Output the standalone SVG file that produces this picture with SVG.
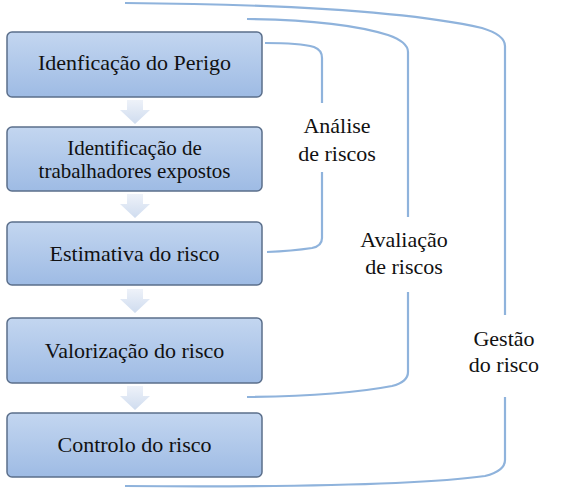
<svg xmlns="http://www.w3.org/2000/svg" width="564" height="496" viewBox="0 0 564 496">
<defs>
<linearGradient id="g" x1="0" y1="0" x2="0" y2="1">
<stop offset="0" stop-color="#c3d6f0"/>
<stop offset="1" stop-color="#9ebbe4"/>
</linearGradient>
<linearGradient id="ga" x1="0" y1="0" x2="0" y2="1">
<stop offset="0" stop-color="#eef2f9"/>
<stop offset="1" stop-color="#cfdcef"/>
</linearGradient>
<path id="arr" d="M-8,0 H8 V10 H15 L0,24 L-15,10 H-8 Z"/>
</defs>
<style>
.box{fill:url(#g);stroke:#5b6f8b;stroke-width:1.5}
.t{font-family:'Liberation Serif','Times New Roman',serif;font-size:22px;fill:#111;text-anchor:middle}
.s{font-size:21px}
.l{font-family:'Liberation Serif','Times New Roman',serif;font-size:22px;fill:#111;text-anchor:middle}
.c{fill:none;stroke:#8fb3dc;stroke-width:2.2}
.a{fill:url(#ga)}
</style>
<rect width="564" height="496" fill="#fff"/>
<g id="connectors">
<use href="#arr" class="a" x="135" y="100"/>
<use href="#arr" class="a" x="135" y="194"/>
<use href="#arr" class="a" x="135" y="289"/>
<use href="#arr" class="a" x="135" y="386"/>
<path class="c" d="M265,43 Q300,43 314,47 Q322,50 322,58 V103"/>
<path class="c" d="M322,172 V238 Q322,246 312,248 Q292,251 267,252"/>
<path class="c" d="M247,19 Q340,20 388,35 Q408,42 408,52 V217"/>
<path class="c" d="M408,292 V372 Q408,382 392,386 Q340,396 247,397"/>
<path class="c" d="M125,3 Q380,5 482,28 Q505,35 505,46 V315"/>
<path class="c" d="M505,397 V460 Q505,471 485,476 Q400,488 125,486"/>
</g>
<g id="n1"><rect class="box" x="7" y="32" width="255" height="65" rx="5"/><text class="t" x="134.5" y="70">Idenficação do Perigo</text></g>
<g id="n2"><rect class="box" x="7" y="127" width="255" height="64" rx="5"/><text class="t s" x="134.5" y="155">Identificação de</text><text class="t s" x="134.5" y="178">trabalhadores expostos</text></g>
<g id="n3"><rect class="box" x="7" y="222" width="255" height="63" rx="5"/><text class="t" x="134.5" y="261">Estimativa do risco</text></g>
<g id="n4"><rect class="box" x="7" y="318" width="255" height="65" rx="5"/><text class="t" x="134.5" y="358">Valorização do risco</text></g>
<g id="n5"><rect class="box" x="7" y="413" width="255" height="64" rx="5"/><text class="t" x="134.5" y="452">Controlo do risco</text></g>
<g id="lab1"><text class="l" x="337" y="133">Análise</text><text class="l" x="337" y="161">de riscos</text></g>
<g id="lab2"><text class="l" x="404" y="247">Avaliação</text><text class="l" x="404" y="274">de riscos</text></g>
<g id="lab3"><text class="l" x="504" y="346">Gestão</text><text class="l" x="504" y="372">do risco</text></g>
</svg>
